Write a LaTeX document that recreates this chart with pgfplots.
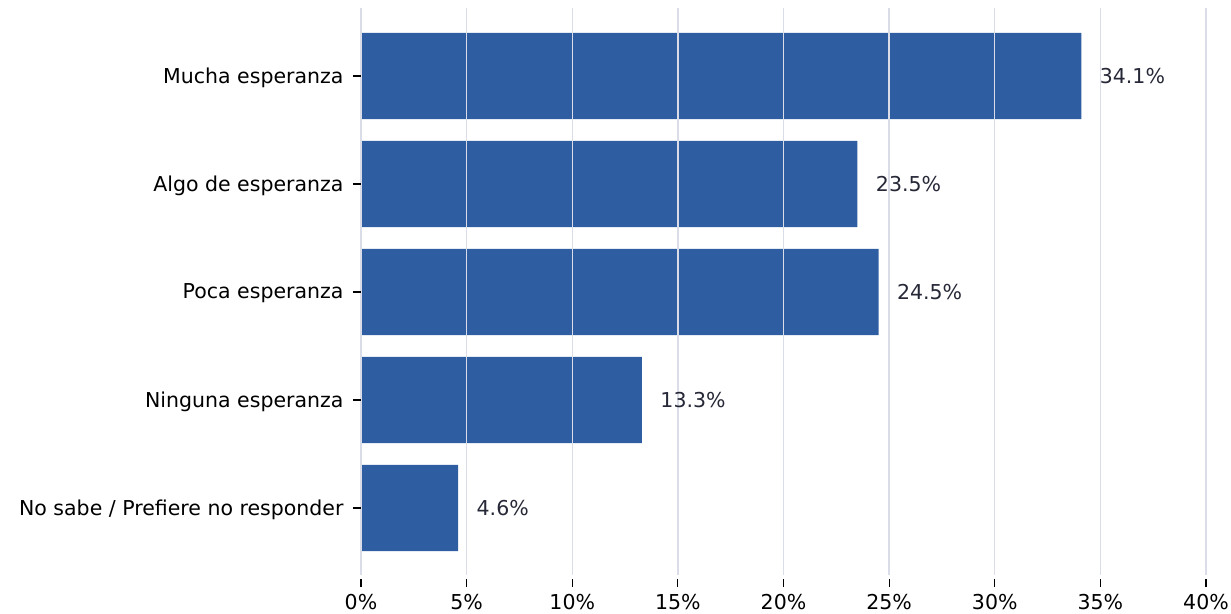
\documentclass[border=0pt]{standalone}
\usepackage{fontspec}
\setmainfont{DejaVu Sans}
\usepackage{pgfplots}
\pgfplotsset{compat=1.18}
\definecolor{barblue}{RGB}{46,93,161}
\definecolor{gridc}{RGB}{218,221,232}
\definecolor{valc}{RGB}{38,40,55}
\begin{document}
\begin{tikzpicture}
\begin{axis}[
  scale only axis,
  width=845pt, height=567pt,
  xbar, bar width=0.8,
  y dir=reverse,
  xmin=0, xmax=40,
  ymin=-0.63, ymax=4.62,
  ytick={0,1,2,3,4},
  yticklabels={Mucha esperanza,Algo de esperanza,Poca esperanza,Ninguna esperanza,No sabe / Prefiere no responder},
  xtick={0,5,10,15,20,25,30,35,40},
  xticklabels={0\%,5\%,10\%,15\%,20\%,25\%,30\%,35\%,40\%},
  axis line style={draw=none},
  tick align=outside,
  major tick length=8pt,
  tick style={black, line width=1.2pt},
  xtick style={yshift=-4pt},
  ytick pos=left, xtick pos=bottom,
  xticklabel style={yshift=-8pt},
  yticklabel style={xshift=-6pt, yshift=-1.5pt},
  xmajorgrids, ymajorgrids=false,
  major grid style={gridc, line width=1.3pt},
  axis on top,
  font=\fontsize{20.5}{24}\selectfont,
  /pgf/number format/assume math mode=true,
  point meta=x,
  nodes near coords={\pgfmathprintnumber[fixed,precision=1,fixed zerofill]{\pgfplotspointmeta}\%},
  every node near coord/.append style={anchor=west, xshift=15pt, text=valc, font=\fontsize{20.5}{24}\selectfont},
  clip=false,
]
\addplot[fill=barblue, draw=none] coordinates {(34.1,0) (23.5,1) (24.5,2) (13.3,3) (4.6,4)};
\end{axis}
\pgfresetboundingbox
\path ([xshift=-361pt,yshift=-38pt]current axis.south west) rectangle ([xshift=25pt,yshift=8pt]current axis.north east);
\end{tikzpicture}
\end{document}
